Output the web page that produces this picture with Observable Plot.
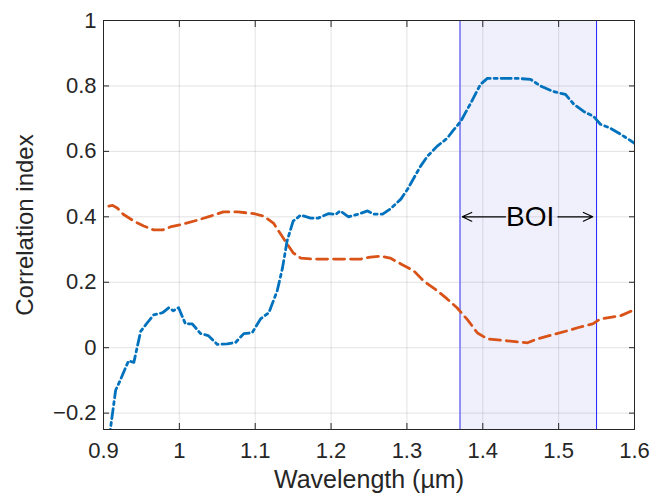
<!DOCTYPE html>
<html>
<head>
<meta charset="utf-8">
<script src="https://cdn.jsdelivr.net/npm/d3@7"></script>
<script src="https://cdn.jsdelivr.net/npm/@observablehq/plot@0.6"></script>
<style>
  html, body { margin: 0; padding: 0; background: #fff; }
  #chart svg { display: block; }
</style>
</head>
<body>
<div id="chart"></div>
<script>
// Series 1 (blue, dash-dot): wavelength (µm) and correlation index
const blueWavelength = [0.907,0.909,0.916,0.922,0.933,0.940,0.949,0.958,0.966,0.978,0.986,0.992,0.999,1.008,1.017,1.028,1.038,1.050,1.063,1.074,1.085,1.096,1.107,1.118,1.129,1.136,1.142,1.150,1.160,1.173,1.183,1.197,1.206,1.212,1.223,1.236,1.248,1.256,1.268,1.278,1.292,1.301,1.309,1.318,1.327,1.340,1.353,1.361,1.371,1.384,1.397,1.406,1.423,1.446,1.463,1.476,1.493,1.509,1.520,1.533,1.546,1.555,1.568,1.582,1.600];
const blueValue = [-0.28,-0.25,-0.13,-0.10,-0.04,-0.045,0.05,0.077,0.10,0.107,0.122,0.113,0.122,0.073,0.073,0.043,0.037,0.010,0.012,0.016,0.043,0.046,0.088,0.107,0.174,0.244,0.326,0.387,0.405,0.396,0.396,0.410,0.407,0.418,0.400,0.408,0.418,0.408,0.408,0.424,0.454,0.485,0.518,0.555,0.585,0.616,0.640,0.664,0.692,0.747,0.805,0.823,0.823,0.823,0.820,0.800,0.783,0.774,0.744,0.722,0.707,0.683,0.671,0.652,0.625];

// Series 2 (orange, dashed)
const orangeWavelength = [0.907,0.912,0.918,0.926,0.940,0.953,0.966,0.978,0.988,1.005,1.024,1.041,1.058,1.077,1.098,1.111,1.124,1.137,1.150,1.160,1.177,1.199,1.222,1.239,1.252,1.265,1.278,1.292,1.309,1.322,1.340,1.353,1.366,1.380,1.393,1.406,1.432,1.459,1.472,1.493,1.512,1.525,1.545,1.555,1.582,1.600];
const orangeValue = [0.433,0.435,0.427,0.408,0.387,0.372,0.360,0.360,0.369,0.378,0.390,0.402,0.415,0.415,0.410,0.402,0.381,0.335,0.290,0.274,0.271,0.271,0.271,0.271,0.277,0.280,0.274,0.256,0.235,0.204,0.174,0.149,0.122,0.085,0.045,0.027,0.021,0.015,0.027,0.040,0.052,0.061,0.073,0.088,0.098,0.116];

// Band of interest
const boiRange = [1.37, 1.55];
const boiLabel = "BOI";
const boiLabelX = 1.4625;
const boiLabelY = 0.4;
const boiArrowStart = [1.430, 1.499];
const boiArrowEnd = [1.373, 1.545];

// Axes
const xDomain = [0.9, 1.6];
const yDomain = [-0.25, 1];
const xTicks = [0.9, 1.0, 1.1, 1.2, 1.3, 1.4, 1.5, 1.6];
const xTickLabels = ["0.9", "1", "1.1", "1.2", "1.3", "1.4", "1.5", "1.6"];
const yTicks = [-0.2, 0, 0.2, 0.4, 0.6, 0.8, 1.0];
const yTickLabels = ["\u22120.2", "0", "0.2", "0.4", "0.6", "0.8", "1"];
const xLabel = "Wavelength (\u00b5m)";
const yLabel = "Correlation index";

const blue = blueWavelength.map((w, i) => ({w, v: blueValue[i]}));
const orange = orangeWavelength.map((w, i) => ({w, v: orangeValue[i]}));
const boi = [{x1: boiRange[0], x2: boiRange[1]}];
const arrows = boiArrowStart.map((s, i) => ({x1: s, x2: boiArrowEnd[i], y: boiLabelY}));

const axisColor = "#262626";
const font = "'Liberation Sans', Arial, Helvetica, sans-serif";

const chart = Plot.plot({
  width: 651,
  height: 500,
  marginLeft: 103,
  marginRight: 17,
  marginTop: 20,
  marginBottom: 71,
  style: {fontFamily: font, background: "#fff", color: axisColor},
  x: {domain: xDomain},
  y: {domain: yDomain},
  marks: [
    Plot.rect(boi, {x1: "x1", x2: "x2", fill: "#f0f0fd"}),
    Plot.gridX(xTicks, {stroke: axisColor, strokeOpacity: 0.13}),
    Plot.gridY(yTicks, {stroke: axisColor, strokeOpacity: 0.13}),
    Plot.ruleX([boiRange[0]], {stroke: "#7878f4", strokeWidth: 1.6}),
    Plot.ruleX([boiRange[1]], {stroke: "#1e1eff", strokeWidth: 1}),
    Plot.line(orange, {x: "w", y: "v", stroke: "#D95319", strokeWidth: 2.8, strokeDasharray: "11,6", clip: true}),
    Plot.line(blue, {x: "w", y: "v", stroke: "#0072BD", strokeWidth: 2.8, strokeDasharray: "10,4,3,4", clip: true}),
    Plot.arrow(arrows, {x1: "x1", x2: "x2", y1: "y", y2: "y", stroke: "#000", strokeWidth: 1.2, headLength: 13, headAngle: 50}),
    Plot.text([boiLabel], {x: boiLabelX, y: boiLabelY, text: d => d, fontSize: 28, fill: "#000", fontFamily: font}),
    Plot.frame({stroke: axisColor, strokeWidth: 1}),
    // inward ticks
    Plot.axisX(xTicks, {anchor: "bottom", tickSize: -6, tickFormat: () => "", label: null, stroke: axisColor}),
    Plot.axisX(xTicks, {anchor: "top", tickSize: -6, tickFormat: () => "", label: null, stroke: axisColor}),
    Plot.axisY(yTicks, {anchor: "left", tickSize: -6, tickFormat: () => "", label: null, stroke: axisColor}),
    Plot.axisY(yTicks, {anchor: "right", tickSize: -6, tickFormat: () => "", label: null, stroke: axisColor}),
    // labels
    Plot.axisX(xTicks, {anchor: "bottom", tickSize: 0, tickPadding: 13, tickFormat: (d, i) => xTickLabels[i], fontSize: 22, fill: axisColor, label: null}),
    Plot.axisY(yTicks, {anchor: "left", tickSize: 0, tickPadding: 7, tickFormat: (d, i) => yTickLabels[i], fontSize: 22, fill: axisColor, label: null}),
    Plot.text([xLabel], {frameAnchor: "bottom", dy: 58, text: d => d, fontSize: 25, fill: axisColor, fontFamily: font}),
    Plot.text([yLabel], {frameAnchor: "left", textAnchor: "middle", dx: -78, rotate: -90, text: d => d, fontSize: 24, fill: axisColor, fontFamily: font})
  ]
});

document.getElementById("chart").appendChild(chart);
</script>
</body>
</html>
